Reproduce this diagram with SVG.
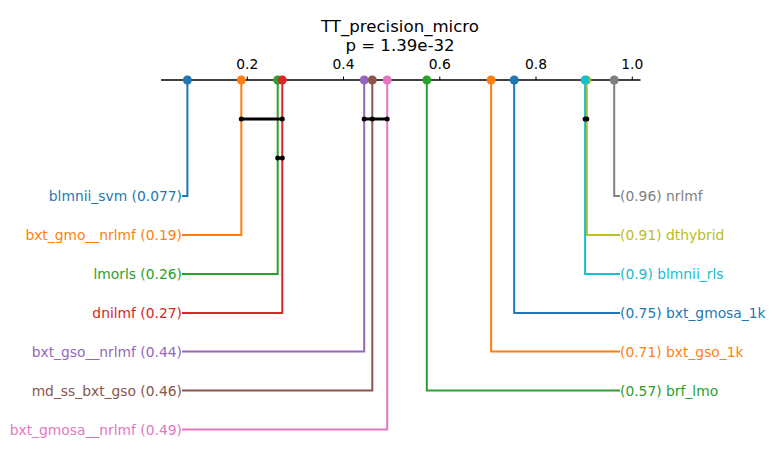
<svg xmlns="http://www.w3.org/2000/svg" width="774" height="462" viewBox="0 0 774 462">
<style>
text{font-family:"DejaVu Sans","Liberation Sans",sans-serif;}
.title{font-size:16.6px;fill:#000;text-anchor:middle;}
.tick{font-size:13.85px;fill:#000;text-anchor:middle;}
.lbl{font-size:13.85px;}
.l{text-anchor:end;}
.r{text-anchor:start;}
.ln{fill:none;stroke-width:2;}
.bar{stroke:#000;stroke-width:3;}
</style>
<rect width="774" height="462" fill="#fff"/>
<g id="title">
<text class="title" x="400" y="32">TT_precision_micro</text>
<text class="title" x="400" y="51">p = 1.39e-32</text>
</g>
<g id="axis">
<line x1="161" y1="80" x2="640.5" y2="80" stroke="#000" stroke-width="1.3"/>
<g stroke="#000" stroke-width="1">
<line x1="247.3" y1="76.5" x2="247.3" y2="80"/>
<line x1="343.5" y1="76.5" x2="343.5" y2="80"/>
<line x1="439.8" y1="76.5" x2="439.8" y2="80"/>
<line x1="536" y1="76.5" x2="536" y2="80"/>
<line x1="632.3" y1="76.5" x2="632.3" y2="80"/>
</g>
<text class="tick" x="247.3" y="68.5">0.2</text>
<text class="tick" x="343.5" y="68.5">0.4</text>
<text class="tick" x="439.8" y="68.5">0.6</text>
<text class="tick" x="536" y="68.5">0.8</text>
<text class="tick" x="632.3" y="68.5">1.0</text>
</g>
<g id="connectors">
<polyline class="ln" stroke="#1f77b4" points="187.4,80 187.4,196 182,196"/>
<polyline class="ln" stroke="#ff7f0e" points="241.3,80 241.3,235 182,235"/>
<polyline class="ln" stroke="#2ca02c" points="277.7,80 277.7,274 182,274"/>
<polyline class="ln" stroke="#d62728" points="282.3,80 282.3,313 182,313"/>
<polyline class="ln" stroke="#9467bd" points="364.2,80 364.2,351.5 182,351.5"/>
<polyline class="ln" stroke="#8c564b" points="372.3,80 372.3,390.5 182,390.5"/>
<polyline class="ln" stroke="#e377c2" points="387.2,80 387.2,429.5 182,429.5"/>
<polyline class="ln" stroke="#7f7f7f" points="614.2,80 614.2,196 620,196"/>
<polyline class="ln" stroke="#bcbd22" points="586.8,80 586.8,235 620,235"/>
<polyline class="ln" stroke="#17becf" points="585.1,80 585.1,274 620,274"/>
<polyline class="ln" stroke="#1f77b4" points="514.2,80 514.2,313 620,313"/>
<polyline class="ln" stroke="#ff7f0e" points="491.1,80 491.1,351.5 620,351.5"/>
<polyline class="ln" stroke="#2ca02c" points="426.8,80 426.8,390.5 620,390.5"/>
</g>
<g id="markers">
<circle cx="187.4" cy="80" r="4.5" fill="#1f77b4"/>
<circle cx="241.3" cy="80" r="4.5" fill="#ff7f0e"/>
<circle cx="277.7" cy="80" r="4.5" fill="#2ca02c"/>
<circle cx="282.3" cy="80" r="4.5" fill="#d62728"/>
<circle cx="364.2" cy="80" r="4.5" fill="#9467bd"/>
<circle cx="372.3" cy="80" r="4.5" fill="#8c564b"/>
<circle cx="387.2" cy="80" r="4.5" fill="#e377c2"/>
<circle cx="426.8" cy="80" r="4.5" fill="#2ca02c"/>
<circle cx="491.1" cy="80" r="4.5" fill="#ff7f0e"/>
<circle cx="514.2" cy="80" r="4.5" fill="#1f77b4"/>
<circle cx="586.8" cy="80" r="4.5" fill="#bcbd22"/>
<circle cx="585.1" cy="80" r="4.5" fill="#17becf"/>
<circle cx="614.2" cy="80" r="4.5" fill="#7f7f7f"/>
</g>
<g id="cliques" fill="#000">
<line class="bar" x1="241.3" y1="119" x2="282.3" y2="119"/>
<circle cx="241.3" cy="119" r="2.5"/><circle cx="282.3" cy="119" r="2.5"/>
<line class="bar" x1="364.2" y1="119" x2="387.2" y2="119"/>
<circle cx="364.2" cy="119" r="2.5"/><circle cx="372.3" cy="119" r="2.5"/><circle cx="387.2" cy="119" r="2.5"/>
<line class="bar" x1="585.1" y1="119" x2="586.8" y2="119"/>
<circle cx="585.1" cy="119" r="2.5"/><circle cx="586.8" cy="119" r="2.5"/>
<line class="bar" x1="277.7" y1="158" x2="282.3" y2="158"/>
<circle cx="277.7" cy="158" r="2.5"/><circle cx="282.3" cy="158" r="2.5"/>
</g>
<g id="labels-left" class="lbl">
<text class="lbl l" x="182" y="201" fill="#1f77b4">blmnii_svm (0.077)</text>
<text class="lbl l" x="182" y="240" fill="#ff7f0e">bxt_gmo__nrlmf (0.19)</text>
<text class="lbl l" x="182" y="279" fill="#2ca02c">lmorls (0.26)</text>
<text class="lbl l" x="182" y="318" fill="#d62728">dnilmf (0.27)</text>
<text class="lbl l" x="182" y="356.5" fill="#9467bd">bxt_gso__nrlmf (0.44)</text>
<text class="lbl l" x="182" y="395.5" fill="#8c564b">md_ss_bxt_gso (0.46)</text>
<text class="lbl l" x="182" y="434.5" fill="#e377c2">bxt_gmosa__nrlmf (0.49)</text>
</g>
<g id="labels-right">
<text class="lbl r" x="620" y="201" fill="#7f7f7f">(0.96) nrlmf</text>
<text class="lbl r" x="620" y="240" fill="#bcbd22">(0.91) dthybrid</text>
<text class="lbl r" x="620" y="279" fill="#17becf">(0.9) blmnii_rls</text>
<text class="lbl r" x="620" y="318" fill="#1f77b4">(0.75) bxt_gmosa_1k</text>
<text class="lbl r" x="620" y="356.5" fill="#ff7f0e">(0.71) bxt_gso_1k</text>
<text class="lbl r" x="620" y="395.5" fill="#2ca02c">(0.57) brf_lmo</text>
</g>
</svg>
